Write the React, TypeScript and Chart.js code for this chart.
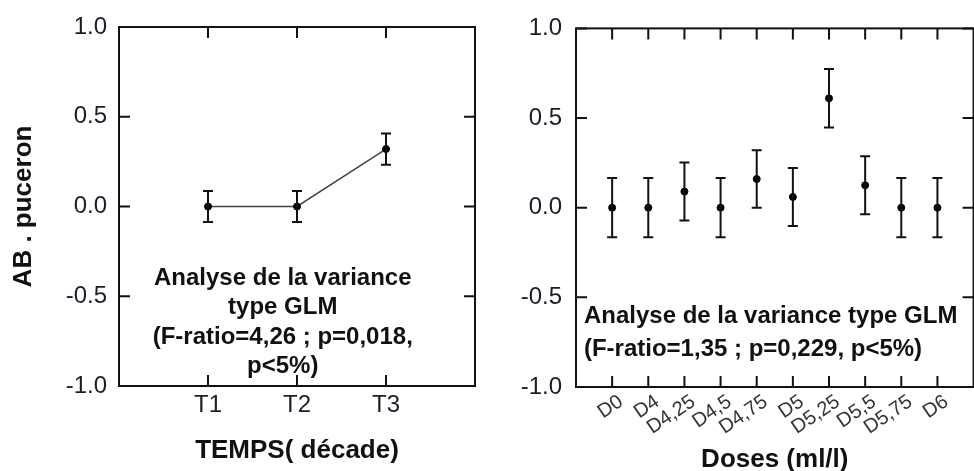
import { useEffect, useRef } from 'react';
import { Chart, registerables } from 'chart.js';

Chart.register(...registerables);

// ---- data ----
const timeCategories = ['T1', 'T2', 'T3'];
const timeMeans = [0.0, 0.0, 0.32];
const timeErrors = [0.087, 0.087, 0.087];

const doseCategories = ['D0', 'D4', 'D4,25', 'D4,5', 'D4,75', 'D5', 'D5,25', 'D5,5', 'D5,75', 'D6'];
const doseMeans = [0.0, 0.0, 0.09, 0.0, 0.16, 0.06, 0.61, 0.125, 0.0, 0.0];
const doseErrors = [0.165, 0.165, 0.162, 0.165, 0.16, 0.162, 0.163, 0.162, 0.165, 0.165];

const yMin = -1;
const yMax = 1;
const yStep = 0.5;

const timeNote = ['Analyse de la variance', 'type GLM', '(F-ratio=4,26 ; p=0,018,', 'p<5%)'];
const doseNote = ['Analyse de la variance type GLM', '(F-ratio=1,35 ; p=0,229, p<5%)'];

const FONT = '"Liberation Sans", Arial, Helvetica, sans-serif';
Chart.defaults.font.family = FONT;

// ---- plugins ----
const errorBarsPlugin = {
  id: 'errorBars',
  afterDatasetsDraw(chart: any, _args: any, opts: any) {
    const errs: number[] = opts.errors || [];
    const { ctx, scales } = chart;
    const data = chart.data.datasets[0].data as any[];
    ctx.save();
    ctx.strokeStyle = '#111';
    ctx.lineWidth = 2;
    data.forEach((d, i) => {
      const e = errs[i];
      if (e == null) return;
      const px = scales.x.getPixelForValue(d.x);
      const top = scales.y.getPixelForValue(d.y + e);
      const bot = scales.y.getPixelForValue(d.y - e);
      ctx.beginPath();
      ctx.moveTo(px, top);
      ctx.lineTo(px, bot);
      ctx.moveTo(px - 5, top);
      ctx.lineTo(px + 5, top);
      ctx.moveTo(px - 5, bot);
      ctx.lineTo(px + 5, bot);
      ctx.stroke();
    });
    ctx.restore();
  },
};

const framePlugin = {
  id: 'frame',
  afterDraw(chart: any, _args: any, opts: any) {
    const { ctx, chartArea: a, scales } = chart;
    const L = opts.tickLength ?? 11;
    const nCat = opts.count ?? 0;
    ctx.save();
    ctx.strokeStyle = '#111';
    ctx.lineWidth = 2;
    ctx.strokeRect(a.left, a.top, a.right - a.left, a.bottom - a.top);
    ctx.beginPath();
    scales.y.ticks.forEach((t: any) => {
      const py = scales.y.getPixelForValue(t.value);
      ctx.moveTo(a.left, py);
      ctx.lineTo(a.left + L, py);
      ctx.moveTo(a.right, py);
      ctx.lineTo(a.right - L, py);
    });
    scales.x.ticks.forEach((t: any) => {
      if (t.value < 1 || t.value > nCat) return;
      const px = scales.x.getPixelForValue(t.value);
      ctx.moveTo(px, a.top);
      ctx.lineTo(px, a.top + L);
      ctx.moveTo(px, a.bottom);
      ctx.lineTo(px, a.bottom - L);
    });
    ctx.stroke();
    ctx.restore();
  },
};

const notePlugin = {
  id: 'note',
  afterDraw(chart: any, _args: any, opts: any) {
    const lines: string[] = opts.lines || [];
    const { ctx, scales } = chart;
    const px = scales.x.getPixelForValue(opts.x);
    const py = scales.y.getPixelForValue(opts.y);
    ctx.save();
    ctx.fillStyle = '#111';
    ctx.font = `bold ${opts.size}px ${FONT}`;
    ctx.textAlign = opts.align;
    ctx.textBaseline = 'middle';
    lines.forEach((l, i) => ctx.fillText(l, px, py + i * opts.gap));
    ctx.restore();
  },
};

function makeConfig(p: {
  cats: string[];
  means: number[];
  errs: number[];
  showLine: boolean;
  yWidth: number;
  yPad: number;
  xHeight: number;
  padding: any;
  xTitle: string;
  xTitleSize: number;
  xTitlePad: number;
  xTitleLH: number;
  yTitle?: string;
  rotation: number;
  xTickSize: number;
  xTickPad: number;
  xTickOffset: number;
  xTickColor: string;
  note: any;
}) {
  return {
    type: 'scatter' as const,
    data: {
      datasets: [
        {
          data: p.cats.map((c, i) => ({ x: i + 1, y: p.means[i], c })),
          showLine: p.showLine,
          borderColor: '#444',
          borderWidth: 1.5,
          pointRadius: 3.5,
          pointBackgroundColor: '#000',
          pointBorderColor: '#000',
          pointBorderWidth: 1,
        },
      ],
    },
    options: {
      responsive: false,
      animation: false as const,
      devicePixelRatio: 1,
      layout: { padding: p.padding },
      plugins: {
        legend: { display: false },
        tooltip: { enabled: false },
        errorBars: { errors: p.errs },
        frame: { tickLength: 11, count: p.cats.length },
        note: p.note,
      },
      scales: {
        x: {
          type: 'linear' as const,
          min: 0,
          max: p.cats.length + 1,
          grid: { display: false, drawTicks: false },
          border: { display: false },
          ticks: {
            stepSize: 1,
            autoSkip: false,
            minRotation: p.rotation,
            maxRotation: p.rotation,
            padding: p.xTickPad,
            labelOffset: p.xTickOffset,
            color: p.xTickColor,
            font: { size: p.xTickSize },
            callback: (v: any) => p.cats[Number(v) - 1] ?? '',
          },
          title: {
            display: true,
            text: p.xTitle,
            color: '#111',
            font: { size: p.xTitleSize, weight: 'bold' as const, lineHeight: p.xTitleLH },
            padding: { top: 0, bottom: p.xTitlePad },
          },
          afterFit: (s: any) => {
            s.height = p.xHeight;
          },
        },
        y: {
          min: yMin,
          max: yMax,
          grid: { display: false, drawTicks: false },
          border: { display: false },
          ticks: {
            stepSize: yStep,
            padding: p.yPad,
            color: '#1c1c2a',
            font: { size: 24 },
            callback: (v: any) => Number(v).toFixed(1),
          },
          title: {
            display: !!p.yTitle,
            text: p.yTitle || '',
            color: '#111',
            font: { size: 26, weight: 'bold' as const },
            padding: { top: 8, bottom: 0 },
          },
          afterFit: (s: any) => {
            s.width = p.yWidth;
          },
        },
      },
    },
    plugins: [errorBarsPlugin, framePlugin, notePlugin],
  };
}

export default function App() {
  const leftRef = useRef<HTMLCanvasElement>(null);
  const rightRef = useRef<HTMLCanvasElement>(null);

  useEffect(() => {
    const left = new Chart(
      leftRef.current as HTMLCanvasElement,
      makeConfig({
        cats: timeCategories,
        means: timeMeans,
        errs: timeErrors,
        showLine: true,
        yWidth: 119,
        yPad: 12,
        xHeight: 85,
        padding: { top: 27, right: 15, left: 0, bottom: 0 },
        xTitle: 'TEMPS( décade)',
        xTitleSize: 26,
        xTitlePad: 5,
        xTitleLH: 1.2,
        yTitle: 'AB . puceron',
        rotation: 0,
        xTickSize: 24,
        xTickPad: 5,
        xTickOffset: 0,
        xTickColor: '#1c1c2a',
        note: { lines: timeNote, x: 1.84, y: -0.4, align: 'center', gap: 29.5, size: 24 },
      }) as any
    );
    const right = new Chart(
      rightRef.current as HTMLCanvasElement,
      makeConfig({
        cats: doseCategories,
        means: doseMeans,
        errs: doseErrors,
        showLine: false,
        yWidth: 86,
        yPad: 14,
        xHeight: 84,
        padding: { top: 27, right: 10, left: 0, bottom: 0 },
        xTitle: 'Doses (ml/l)',
        xTitleSize: 26,
        xTitlePad: 0,
        xTitleLH: 0.85,
        rotation: 34,
        xTickSize: 20,
        xTickPad: 3,
        xTickOffset: 9,
        xTickColor: '#333',
        note: { lines: doseNote, x: 0.22, y: -0.607, align: 'left', gap: 33, size: 24 },
      }) as any
    );
    return () => {
      left.destroy();
      right.destroy();
    };
  }, []);

  return (
    <div
      style={{
        position: 'fixed',
        left: 0,
        top: 0,
        width: 974,
        height: 471,
        overflow: 'hidden',
        background: '#fff',
      }}
    >
      <canvas
        ref={leftRef}
        width={490}
        height={471}
        style={{ position: 'absolute', left: 0, top: 0, width: 490, height: 471 }}
      />
      <canvas
        ref={rightRef}
        width={500}
        height={471}
        style={{ position: 'absolute', left: 490, top: 0, width: 500, height: 471 }}
      />
    </div>
  );
}
